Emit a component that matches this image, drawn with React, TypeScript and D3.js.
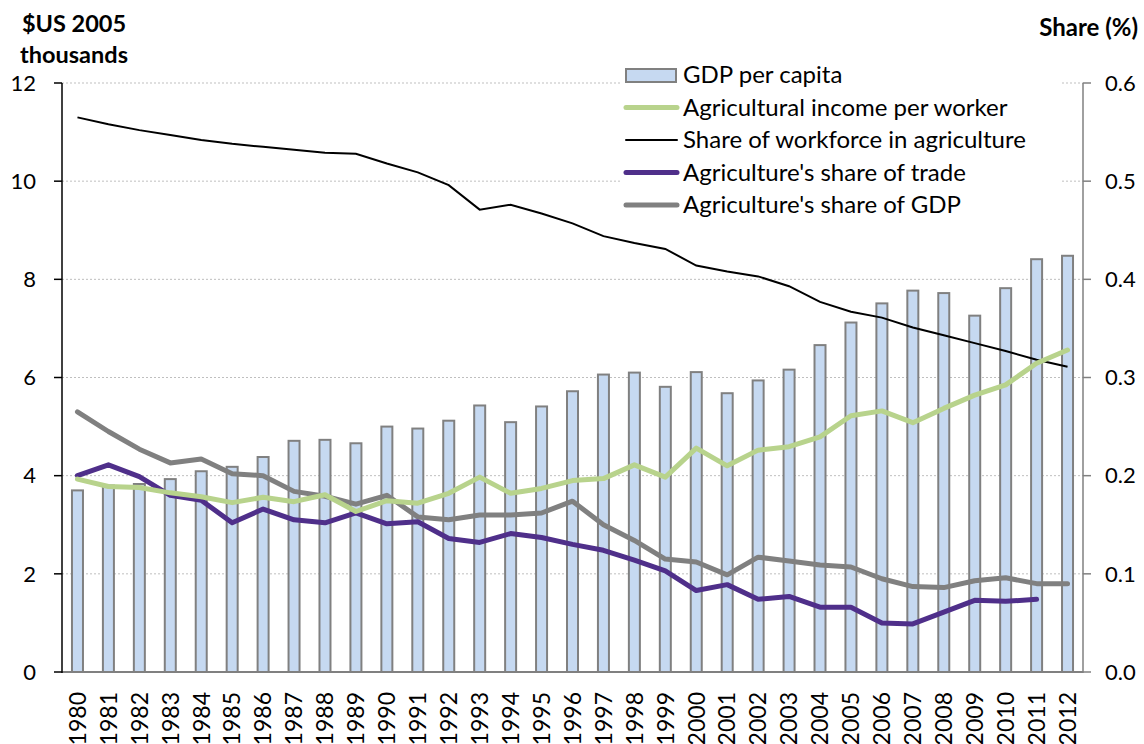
import { useEffect } from 'react';
import * as d3 from 'd3';

const years = d3.range(1980, 2013).map(String);

// GDP per capita, $US 2005 thousands (bars, left axis)
const gdpPerCapita = [
  3.7, 3.8, 3.83, 3.93, 4.09, 4.18, 4.38, 4.71, 4.73, 4.66, 5.0, 4.96, 5.12, 5.43, 5.09, 5.41, 5.72,
  6.06, 6.1, 5.81, 6.11, 5.68, 5.94, 6.16, 6.66, 7.12, 7.51, 7.77, 7.72, 7.26, 7.82, 8.41, 8.48,
];

// Agricultural income per worker, $US 2005 thousands (left axis)
const agIncome = [
  3.93, 3.78, 3.76, 3.65, 3.57, 3.45, 3.56, 3.47, 3.61, 3.27, 3.49, 3.44, 3.64, 3.97, 3.64, 3.74, 3.9,
  3.94, 4.22, 3.97, 4.56, 4.2, 4.52, 4.59, 4.79, 5.22, 5.32, 5.08, 5.37, 5.64, 5.85, 6.29, 6.56,
];

// Share of workforce in agriculture (right axis)
const workforceShare = [
  0.565, 0.558, 0.552, 0.547, 0.542, 0.538, 0.535, 0.532, 0.529, 0.528, 0.518, 0.509, 0.496, 0.471,
  0.476, 0.467, 0.457, 0.444, 0.437, 0.431, 0.414, 0.408, 0.403, 0.393, 0.377, 0.367, 0.361, 0.351,
  0.343, 0.335, 0.327, 0.318, 0.311,
];

// Agriculture's share of trade (right axis), no value for 2012
const tradeShare: (number | null)[] = [
  0.2, 0.211, 0.199, 0.18, 0.175, 0.152, 0.166, 0.155, 0.152, 0.162, 0.151, 0.153, 0.136, 0.132,
  0.141, 0.137, 0.13, 0.124, 0.114, 0.103, 0.083, 0.089, 0.074, 0.077, 0.066, 0.066, 0.05, 0.049,
  0.061, 0.073, 0.072, 0.074, null,
];

// Agriculture's share of GDP (right axis)
const gdpShare = [
  0.265, 0.245, 0.227, 0.213, 0.217, 0.202, 0.2, 0.184, 0.179, 0.171, 0.18, 0.158, 0.155, 0.16, 0.16,
  0.162, 0.174, 0.15, 0.134, 0.115, 0.112, 0.099, 0.117, 0.113, 0.109, 0.107, 0.095, 0.087, 0.086,
  0.093, 0.096, 0.09, 0.09,
];

const leftTicks = [0, 2, 4, 6, 8, 10, 12];
const rightTicks = [0, 0.1, 0.2, 0.3, 0.4, 0.5, 0.6];

const FONT = 'Lato, "Open Sans", sans-serif';

const W = 1144;
const H = 744;
const left = 62;
const right = 1083;
const top = 83;
const bottom = 672;

const App = () => {
  useEffect(() => {
    document.body.style.margin = '0';
  }, []);

  const x = d3.scaleBand().domain(years).range([left, right]);
  const yL = d3.scaleLinear().domain([0, 12]).range([bottom, top]);
  const yR = d3.scaleLinear().domain([0, 0.6]).range([bottom, top]);
  const cx = (i: number) => (x(years[i]) as number) + x.bandwidth() / 2;
  const barW = 11;

  const lineL = d3.line<number>().x((_, i) => cx(i)).y(d => yL(d));
  const lineR = d3
    .line<number | null>()
    .defined(d => d !== null)
    .x((_, i) => cx(i))
    .y(d => yR(d as number));

  const legend = [
    { label: 'GDP per capita', kind: 'bar' },
    { label: 'Agricultural income per worker', color: '#b8d38c', w: 5 },
    { label: 'Share of workforce in agriculture', color: '#000000', w: 2 },
    { label: "Agriculture's share of trade", color: '#4f2f8a', w: 5 },
    { label: "Agriculture's share of GDP", color: '#808080', w: 5 },
  ];

  return (
    <svg width={W} height={H} style={{ display: 'block', background: '#fff' }} fontFamily={FONT}>
      {/* grid */}
      {leftTicks.slice(1).map(t => (
        <line key={t} x1={left} x2={right} y1={yL(t)} y2={yL(t)} stroke="#bfbfbf" strokeDasharray="2,2" strokeWidth={1} />
      ))}

      {/* bars */}
      {gdpPerCapita.map((v, i) => (
        <rect key={i} x={cx(i) - barW / 2} y={yL(v)} width={barW} height={bottom - yL(v)} fill="#c6d9f1" stroke="#808080" strokeWidth={2} />
      ))}

      {/* lines */}
      <path d={lineR(workforceShare) ?? ''} fill="none" stroke="#000" strokeWidth={2} />
      <path d={lineR(gdpShare) ?? ''} fill="none" stroke="#808080" strokeWidth={5} strokeLinejoin="round" strokeLinecap="round" />
      <path d={lineR(tradeShare) ?? ''} fill="none" stroke="#4f2f8a" strokeWidth={5} strokeLinejoin="round" strokeLinecap="round" />
      <path d={lineL(agIncome) ?? ''} fill="none" stroke="#b8d38c" strokeWidth={5} strokeLinejoin="round" strokeLinecap="round" />

      {/* axes */}
      <line x1={left} x2={right} y1={bottom} y2={bottom} stroke="#808080" strokeWidth={2} />
      <line x1={left} x2={left} y1={top} y2={bottom + 1} stroke="#000" strokeWidth={1.5} />
      <line x1={right} x2={right} y1={top} y2={bottom + 1} stroke="#808080" strokeWidth={1.5} />
      {leftTicks.map(t => (
        <g key={'l' + t}>
          <line x1={left - 8} x2={left} y1={yL(t)} y2={yL(t)} stroke="#000" strokeWidth={1.5} />
          <text x={36} y={yL(t)} dy="0.35em" textAnchor="end" fontSize={22}>{t}</text>
        </g>
      ))}
      {rightTicks.map(t => (
        <g key={'r' + t}>
          <line x1={right} x2={right + 8} y1={yR(t)} y2={yR(t)} stroke="#808080" strokeWidth={1.5} />
          <text x={1105} y={yR(t)} dy="0.35em" textAnchor="start" fontSize={22}>{t.toFixed(1)}</text>
        </g>
      ))}
      {years.map((yr, i) => (
        <text key={yr} transform={`translate(${cx(i)},692) rotate(-90)`} dy="0.36em" textAnchor="end" fontSize={23}>{yr}</text>
      ))}

      {/* axis titles */}
      <text x={74} y={32} textAnchor="middle" fontSize={23.5} fontWeight="bold">$US 2005</text>
      <text x={74} y={63} textAnchor="middle" fontSize={23.5} fontWeight="bold">thousands</text>
      <text x={1138} y={36} textAnchor="end" fontSize={24} fontWeight="bold">Share (%)</text>

      {/* legend */}
      <rect x={620} y={60} width={440} height={160} fill="#fff" />
      {legend.map((d, i) => {
        const ly = 75 + i * 32.5;
        return (
          <g key={d.label}>
            {d.kind === 'bar' ? (
              <rect x={626} y={ly - 6} width={50} height={13} fill="#c6d9f1" stroke="#808080" strokeWidth={2} />
            ) : (
              <line x1={626} x2={677} y1={ly} y2={ly} stroke={d.color} strokeWidth={d.w} strokeLinecap="round" />
            )}
            <text x={683} y={ly} dy="0.35em" fontSize={24}>{d.label}</text>
          </g>
        );
      })}
    </svg>
  );
};

export default App;
